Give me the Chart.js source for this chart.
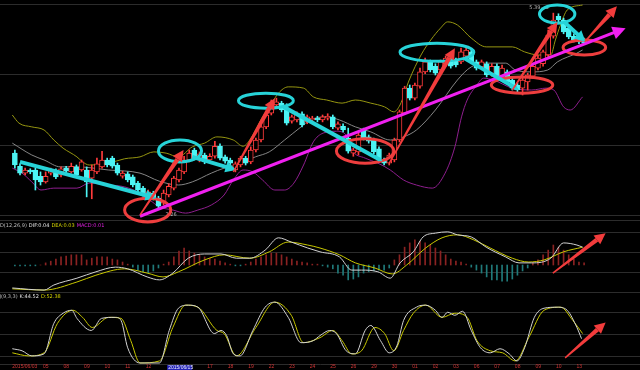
<!DOCTYPE html>
<html>
<head>
<meta charset="utf-8">
<script src="https://cdn.jsdelivr.net/npm/chart.js@4.4.0/dist/chart.umd.min.js"></script>
<style>
  html, body { margin: 0; padding: 0; background: #000; }
  canvas { display: block; }
</style>
</head>
<body>
<canvas id="kline" width="640" height="370"></canvas>
<script>
// trading days, 4 hourly bars a day (first day only has its last 2 bars)
const days = ['2015/06/03','04','05','08','09','10','11','12','15','16','17','18','19','22','23','24',
  '25','26','29','30','01','02','03','06','07','08','09','10','13'];
const cursorDay = '15';

// hourly candles
const open = [3.15,2.94,2.83,2.88,2.88,2.78,2.69,2.83,2.86,2.80,
  2.91,2.85,2.93,2.88,2.88,2.75,2.85,2.93,3.04,3.07,
  2.96,2.78,2.82,2.77,2.67,2.59,2.50,2.51,2.43,2.35,
  2.48,2.59,2.72,2.85,3.04,3.20,3.04,3.12,3.04,3.10,
  3.26,3.09,3.04,2.88,2.96,3.07,3.01,3.20,3.36,3.57,
  3.79,3.92,3.95,3.87,3.66,3.68,3.78,3.65,3.68,3.71,
  3.68,3.71,3.73,3.55,3.58,3.39,3.15,3.17,3.52,3.41,
  3.36,3.22,3.04,2.99,3.04,3.36,3.79,4.19,4.03,4.22,
  4.45,4.61,4.54,4.48,4.58,4.67,4.64,4.61,4.70,4.77,
  4.61,4.53,4.58,4.42,4.54,4.38,4.45,4.32,4.24,4.19,
  4.29,4.38,4.51,4.58,4.72,5.02,5.34,5.28,5.15,5.02,
  4.99,4.96];
const close = [2.96,2.83,2.88,2.85,2.72,2.69,2.78,2.88,2.77,2.90,
  2.86,2.94,2.80,3.01,2.69,2.88,2.98,3.04,2.96,2.94,
  2.83,2.83,2.72,2.64,2.56,2.50,2.53,2.43,2.30,2.51,
  2.62,2.75,2.88,3.04,3.15,3.07,3.14,3.01,3.10,3.26,
  3.07,3.02,2.99,2.98,3.07,2.99,3.20,3.36,3.57,3.76,
  3.95,3.97,3.84,3.63,3.73,3.78,3.60,3.73,3.71,3.68,
  3.73,3.74,3.57,3.62,3.52,3.18,3.20,3.44,3.39,3.34,
  3.17,3.04,2.99,3.12,3.36,3.81,4.19,4.03,4.24,4.45,
  4.61,4.48,4.43,4.61,4.67,4.54,4.56,4.77,4.80,4.61,
  4.51,4.61,4.40,4.54,4.38,4.51,4.29,4.19,4.16,4.32,
  4.40,4.54,4.67,4.77,5.04,5.28,5.28,5.09,5.01,4.96,
  4.93,4.91];
const high = [3.20,2.98,2.91,2.90,2.91,2.85,2.85,2.91,2.90,2.93,
  2.94,2.99,2.96,3.04,2.93,2.96,3.07,3.18,3.07,3.10,
  2.99,2.86,2.85,2.80,2.70,2.62,2.56,2.54,2.46,2.56,
  2.66,2.78,2.91,3.10,3.20,3.23,3.17,3.15,3.14,3.34,
  3.30,3.12,3.07,3.01,3.10,3.10,3.25,3.39,3.60,3.79,
  4.00,4.03,3.98,3.94,3.76,3.81,3.81,3.76,3.74,3.74,
  3.76,3.78,3.76,3.65,3.62,3.55,3.23,3.47,3.55,3.44,
  3.39,3.25,3.07,3.15,3.39,3.84,4.22,4.24,4.27,4.51,
  4.67,4.64,4.58,4.64,4.70,4.72,4.67,4.83,4.83,4.80,
  4.64,4.64,4.61,4.58,4.58,4.56,4.48,4.35,4.27,4.35,
  4.43,4.58,4.72,4.80,5.12,5.39,5.38,5.31,5.18,5.06,
  5.02,4.99];
const low = [2.91,2.80,2.80,2.82,2.56,2.64,2.67,2.80,2.74,2.77,
  2.83,2.83,2.77,2.86,2.45,2.42,2.82,2.91,2.93,2.91,
  2.80,2.75,2.69,2.61,2.53,2.46,2.46,2.40,2.26,2.32,
  2.45,2.56,2.69,2.82,3.01,3.04,3.01,2.98,3.01,3.07,
  3.04,2.99,2.96,2.85,2.93,2.96,2.98,3.17,3.33,3.54,
  3.76,3.87,3.81,3.60,3.63,3.65,3.57,3.62,3.65,3.65,
  3.65,3.68,3.54,3.52,3.49,3.15,3.10,3.12,3.36,3.31,
  3.14,3.01,2.96,2.96,3.01,3.33,3.78,4.00,4.00,4.19,
  4.42,4.45,4.40,4.45,4.54,4.51,4.53,4.58,4.67,4.58,
  4.48,4.50,4.37,4.38,4.35,4.35,4.26,4.16,4.13,4.08,
  4.16,4.35,4.48,4.54,4.67,4.99,5.25,5.06,4.98,4.93,
  4.90,4.90];

// Bollinger bands, [bar index, price]
const bollUpper = [[-0.5,3.76],[0.8,3.63],[3.3,3.57],[5.7,3.52],[7.6,3.36],[9.4,3.23],[12.1,3.09],[13.2,3.01],
  [14.5,2.96],[18.3,2.99],[21.4,3.06],[24.4,3.09],[27.1,3.17],[29.5,3.15],[31.9,3.09],[34.6,3.25],[37,3.31],
  [39.4,3.41],[42.6,3.36],[44.5,3.26],[45.8,3.36],[48.3,3.73],[50.1,3.95],[51.4,4.11],[53.3,4.21],[56.3,4.19],
  [58.2,4.05],[60.8,4.00],[63.8,3.95],[66.4,4.00],[69.4,3.95],[72.1,3.89],[73.9,3.81],[75.1,3.92],[76.9,4.32],
  [79.2,4.72],[81.1,4.96],[83,5.15],[84.4,5.25],[86.3,5.20],[89,4.99],[91.9,4.85],[97,4.85],[99.4,4.77],
  [102.1,4.72],[104.5,4.72],[105.4,4.96],[106.4,5.20],[107.7,5.44],[110.7,5.52]];
const bollMid = [[-0.5,3.31],[3.3,3.12],[5.7,3.04],[8.9,2.93],[12.1,2.93],[18.3,2.88],[24.4,2.83],[28.2,2.70],
  [31.9,2.64],[34.6,2.69],[38.3,2.83],[40.8,2.91],[43.2,2.96],[46.9,3.09],[49.6,3.17],[52.6,3.36],[55.8,3.57],
  [57.6,3.68],[60.8,3.73],[63.3,3.68],[66.4,3.57],[69.4,3.49],[73.2,3.36],[75.8,3.41],[78.3,3.52],[82,3.84],
  [86.3,4.32],[89,4.53],[92.7,4.59],[95.7,4.59],[97.6,4.48],[100.8,4.45],[103.9,4.48],[105.8,4.61],
  [109.6,4.75],[110.7,4.80]];
const bollLower = [[-0.5,2.91],[1.4,2.83],[3.3,2.69],[5.1,2.56],[7.6,2.59],[12.1,2.59],[14.5,2.67],[18.3,2.64],
  [21.4,2.61],[24.4,2.51],[26.3,2.40],[28.2,2.29],[30.8,2.24],[33.3,2.19],[35.7,2.24],[38.3,2.32],[40.8,2.48],
  [42.6,2.72],[44.5,2.88],[46.4,2.85],[48.3,2.72],[50.7,2.56],[52.6,2.56],[54.4,2.67],[56.3,2.96],[58.2,3.33],
  [60.1,3.47],[62.7,3.50],[64.6,3.44],[65.7,3.20],[68.3,3.07],[70.8,2.99],[73.2,2.88],[75.8,2.72],[78.3,2.64],
  [81.4,2.59],[83.9,2.83],[85.8,3.25],[87.1,3.73],[88.2,4.00],[90.1,4.24],[91.4,4.35],[93.3,4.32],[97,4.19],
  [100.8,4.16],[103.6,4.19],[105.1,4.16],[107,3.89],[108.3,3.84],[110.7,4.05]];

// MACD(12,26,9)
const macdBar = [-0.002,-0.002,-0.002,-0.002,-0.002,0,0.005,0.009,0.014,0.019,
  0.021,0.024,0.024,0.024,0.012,0.016,0.019,0.019,0.019,0.014,
  0.012,0.007,0.002,-0.005,-0.012,-0.016,-0.019,-0.014,-0.007,0.002,
  0.007,0.019,0.033,0.040,0.033,0.028,0.024,0.019,0.016,0.014,
  0.009,0.005,0.002,-0.002,-0.002,0.002,0.007,0.014,0.019,0.024,
  0.028,0.028,0.024,0.019,0.014,0.009,0.007,0.005,0.002,0.002,
  -0.002,-0.005,-0.009,-0.019,-0.024,-0.035,-0.033,-0.028,-0.019,-0.016,
  -0.014,-0.012,-0.012,-0.007,0.012,0.024,0.042,0.052,0.059,0.056,
  0.052,0.047,0.040,0.033,0.024,0.014,0.009,0.007,0.002,-0.005,
  -0.012,-0.019,-0.028,-0.035,-0.035,-0.038,-0.038,-0.033,-0.024,-0.014,
  -0.007,0.005,0.012,0.024,0.035,0.047,0.042,0.035,0.024,0.014,
  0.007,0.005];
const dif = [[-0.5,-0.054],[5.7,-0.059],[7.6,-0.047],[12.1,-0.031],[15.8,-0.016],[19.6,-0.005],[22,-0.009],
  [25.8,-0.028],[28.2,-0.035],[30.8,-0.019],[33.8,0.016],[37,0.026],[40.2,0.026],[43.2,0.016],[45.8,0.016],
  [48.8,0.035],[51.4,0.064],[53.9,0.054],[57.1,0.040],[59.5,0.031],[63.3,0.019],[65.7,-0.012],[67.6,-0.012],
  [70.8,-0.016],[73.2,-0.031],[75.1,0.005],[77.7,0.031],[79.6,0.066],[82,0.075],[84.4,0.078],[86.3,0.071],
  [89,0.066],[91.9,0.042],[95.7,0.019],[98.3,0.005],[100.8,0.005],[104.5,0.016],[107,0.052],[109.6,0.047],
  [110.7,0.042]];
const dea = [[-0.5,-0.056],[5.7,-0.059],[12.1,-0.040],[15.8,-0.024],[21.4,-0.009],[25.8,-0.019],[28.9,-0.028],
  [31.9,-0.016],[37,0.012],[40.8,0.024],[45.8,0.016],[49.6,0.031],[53.3,0.054],[57.1,0.047],[59.5,0.040],
  [63.3,0.024],[66.4,0.005],[70.2,-0.007],[73.6,-0.021],[76.4,0],[80.1,0.040],[83.3,0.064],[86.3,0.071],
  [89.5,0.059],[92.7,0.040],[97,0.016],[100.2,0.007],[103.2,0.012],[107,0.031],[110.7,0.042]];

// KDJ(9,3,3)
const kLine = [[-0.5,30.6],[1.4,27.8],[3.3,20.8],[5.7,23.6],[7.6,65.3],[9.4,79.2],[11.1,83.3],[12.1,72.2],
  [14.9,55.6],[16.9,72.2],[19.6,73.6],[20.7,69.4],[22,31.9],[24.4,11.1],[28.2,11.1],[30.1,55.6],[31.9,86.1],
  [33.8,90.3],[35.7,87.5],[38.9,51.4],[40.2,55.6],[41.3,48.6],[42.6,23.6],[43.9,20.8],[46.4,55.6],[48.8,87.5],
  [50.7,94.4],[53.3,73.6],[55.8,38.9],[58.2,41.7],[59.5,48.6],[61.4,55.6],[62.7,51.4],[64.6,27.8],[66.4,23.6],
  [68.3,55.6],[69.4,62.5],[71.3,41.7],[73,25],[74.5,34.7],[75.8,69.4],[78.3,87.5],[80.1,90.3],[82,83.3],
  [83.3,73.6],[84.4,80.6],[85.8,76.4],[87.3,81.9],[89,55.6],[90.8,31.9],[92.7,25],[94.6,30.6],[96.4,23.6],
  [97.9,13.9],[99.4,31.9],[101.3,73.6],[103.2,86.1],[105.8,87.5],[107.7,83.3],[109.6,59.7],[110.5,44.4]];
const dLine = [[-0.5,25],[2.7,20.8],[5.7,25],[8.3,65.3],[11.3,83.3],[13.2,73.6],[15.1,59.7],[18.3,73.6],
  [20.7,72.2],[22.6,41.7],[24.4,11.1],[28.2,13.9],[30.8,59.7],[33.3,90.3],[35.7,87.5],[39.4,55.6],[40.8,51.4],
  [43.2,20.8],[47,59.7],[50.7,94.4],[53.9,76.4],[56.3,38.9],[59.5,45.8],[62,55.6],[63.8,41.7],[65.7,23.6],
  [67.6,27.8],[70.2,59.7],[72.1,51.4],[73.9,27.8],[75.8,55.6],[77.7,79.2],[80.1,90.3],[83.3,73.6],[85.8,79.2],
  [88.2,73.6],[90.1,41.7],[92.7,27.8],[95.1,25],[97.6,13.9],[100.2,45.8],[103.2,83.3],[106.4,87.5],
  [108.8,69.4],[110.7,51.4]];

// header texts
const macdTitle = [['MACD(12,26,9)','#bdbdbd'],['DIF:0.04','#e6e6e6'],['DEA:0.03','#d6d600'],['MACD:0.01','#e020e0']];
const kdjTitle = [['KDJ(9,3,3)','#bdbdbd'],['K:44.52','#e6e6e6'],['D:52.38','#d6d600']];

// hand drawn marks: rings [from bar, to bar, top price, bottom price]
const cyanRings = [[28,36.4,3.36,3.01],[43.6,54.3,4.11,3.87],[75.1,89.5,4.91,4.62],[102.3,109.2,5.52,5.23]];
const redRings = [[21.4,30.4,2.43,2.05],[62.7,73.9,3.38,2.99],[92.9,104.9,4.37,4.11],[106.9,115.2,4.96,4.72]];
// arrows [from bar, from value, to bar, to value]
const redArrows = [[24.4,2.16,32.9,3.20],[42.6,2.85,50.7,4.03],[73,2.99,85.8,4.83],[97,4.16,105.8,5.25],[111.1,4.93,117.4,5.50]];
const cyanArrows = [[1,3.01,27.6,2.43],[34.6,3.09,43.2,2.88],[52.4,3.89,71.7,3.02],[87.6,4.67,98.3,4.16],[107.1,5.25,111.3,4.93]];
const trendArrow = [24.4,2.14,119.1,5.15];
const macdArrow = [104.9,-0.019,115.2,0.075];
const kdjArrow = [107.3,18.1,115.2,66.7];

const UP = '#ff3b3b', DOWN = '#4cf4f4';

// bar index where each day starts
const dayStart = days.map((d, k) => k === 0 ? 0 : 2 + 4 * (k - 1));
const tickText = new Map();
days.forEach((d, k) => {
  if (k === 1) return; // hidden under the full first date
  if (d === cursorDay || days[k - 1] === cursorDay) return; // under the cursor box
  tickText.set(dayStart[k] - 0.5, d);
});

const pts = arr => arr.map(([x, y]) => ({ x, y }));
const isUp = i => close[i] >= open[i];

function arrow(ctx, x0, y0, x1, y1, color, w, head, taper) {
  const a = Math.atan2(y1 - y0, x1 - x0);
  const c = Math.cos(a), s = Math.sin(a);
  const bx = x1 - head * c, by = y1 - head * s;
  ctx.fillStyle = color;
  ctx.strokeStyle = color;
  if (taper) {
    ctx.beginPath();
    ctx.moveTo(x0 - s * 0.7, y0 + c * 0.7);
    ctx.lineTo(bx - s * w / 2, by + c * w / 2);
    ctx.lineTo(bx + s * w / 2, by - c * w / 2);
    ctx.lineTo(x0 + s * 0.7, y0 - c * 0.7);
    ctx.closePath();
    ctx.fill();
  } else {
    ctx.lineWidth = w;
    ctx.beginPath();
    ctx.moveTo(x0, y0);
    ctx.lineTo(bx + c, by + s);
    ctx.stroke();
  }
  ctx.beginPath();
  ctx.moveTo(x1, y1);
  ctx.lineTo(bx - s * head * 0.5, by + c * head * 0.5);
  ctx.lineTo(bx + s * head * 0.5, by - c * head * 0.5);
  ctx.closePath();
  ctx.fill();
}

const overlay = {
  id: 'overlay',
  beforeDraw(chart) {
    const ctx = chart.ctx;
    ctx.save();
    ctx.fillStyle = '#000';
    ctx.fillRect(0, 0, chart.width, chart.height);
    ctx.restore();
  },
  afterDatasetsDraw(chart) {
    const { ctx, scales } = chart;
    const X = v => scales.x.getPixelForValue(v);
    const P = v => scales.yP.getPixelForValue(v);
    ctx.save();

    // price labels at the low and the high
    ctx.font = '5px "DejaVu Sans"';
    ctx.fillStyle = '#b8b8b8';
    ctx.strokeStyle = '#b8b8b8';
    ctx.lineWidth = 1;
    ctx.textBaseline = 'middle';
    let lo = low.indexOf(Math.min(...low));
    ctx.textAlign = 'left';
    ctx.fillText(low[lo].toFixed(2), X(lo) + 7, P(low[lo]) + 6);
    let hi = high.indexOf(Math.max(...high));
    ctx.textAlign = 'right';
    ctx.fillText(high[hi].toFixed(2), X(hi) - 13, P(high[hi]) - 5);
    ctx.beginPath();
    ctx.moveTo(X(hi) - 12, P(high[hi]) - 5);
    ctx.lineTo(X(hi) - 5, P(high[hi]) - 5);
    ctx.stroke();

    // rings
    ctx.lineWidth = 3;
    const ring = (r, color) => {
      const x0 = X(r[0]), x1 = X(r[1]), y0 = P(r[2]), y1 = P(r[3]);
      ctx.strokeStyle = color;
      ctx.beginPath();
      ctx.ellipse((x0 + x1) / 2, (y0 + y1) / 2, Math.abs(x1 - x0) / 2, Math.abs(y1 - y0) / 2, 0, 0, Math.PI * 2);
      ctx.stroke();
    };
    cyanRings.forEach(r => ring(r, '#27d3d8'));
    redRings.forEach(r => ring(r, '#ee3e3e'));

    // arrows
    const t = trendArrow;
    arrow(ctx, X(t[0]), P(t[1]), X(t[2]), P(t[3]), '#f020f0', 3, 13, false);
    cyanArrows.forEach((a, k) => arrow(ctx, X(a[0]), P(a[1]), X(a[2]), P(a[3]), '#27d3d8', 4, k === 2 || k === 3 ? 4 : 11, false));
    redArrows.forEach(a => arrow(ctx, X(a[0]), P(a[1]), X(a[2]), P(a[3]), '#f23c3c', 4.5, 11, true));
    const M = v => scales.yM.getPixelForValue(v);
    const K = v => scales.yK.getPixelForValue(v);
    arrow(ctx, X(macdArrow[0]), M(macdArrow[1]), X(macdArrow[2]), M(macdArrow[3]), '#f23c3c', 4.5, 11, true);
    arrow(ctx, X(kdjArrow[0]), K(kdjArrow[1]), X(kdjArrow[2]), K(kdjArrow[3]), '#f23c3c', 4.5, 11, true);

    // panel headers
    ctx.font = '5px "DejaVu Sans"';
    ctx.textAlign = 'left';
    ctx.textBaseline = 'middle';
    const header = (items, x, y) => {
      items.forEach(([txt, col]) => {
        ctx.fillStyle = col;
        ctx.fillText(txt, x, y);
        x += ctx.measureText(txt).width + 2;
      });
    };
    header(macdTitle, -ctx.measureText('MAC').width, scales.yM.top + 6);
    header(kdjTitle, -ctx.measureText('KDJ').width + 1, scales.yK.top + 5);

    // cursor date box on the time axis
    const k = days.indexOf(cursorDay);
    const bx = X(dayStart[k] - 0.5);
    ctx.font = '5px "Liberation Sans"';
    ctx.fillStyle = '#2323b4';
    ctx.fillRect(bx + 1, scales.x.top + 1, 25, chart.height - scales.x.top - 1);
    ctx.fillStyle = '#e8e8ff';
    ctx.fillText('2015/06/' + cursorDay, bx + 2, scales.x.top + 4);
    ctx.restore();
  }
};

const gridColor = '#2c2c2c';
const paneY = (weight, min, max, ticks) => ({
  type: 'linear', position: 'right', stack: 'panes', stackWeight: weight,
  min, max,
  grid: { color: gridColor, drawTicks: false },
  border: { display: false },
  ticks: { display: false },
  afterBuildTicks: axis => { axis.ticks = ticks.map(v => ({ value: v })); }
});

new Chart(document.getElementById('kline'), {
  type: 'bar',
  data: {
    datasets: [
      {
        label: 'bodies',
        data: open.map((o, i) => ({ x: i, y: [o, close[i]] })),
        backgroundColor: open.map((o, i) => isUp(i) ? '#000' : DOWN),
        borderColor: open.map((o, i) => isUp(i) ? UP : DOWN),
        borderWidth: 1, borderSkipped: false,
        barThickness: 5, grouped: false, yAxisID: 'yP', order: 1
      },
      {
        label: 'wicks',
        data: low.map((l, i) => ({ x: i, y: [l, high[i]] })),
        backgroundColor: open.map((o, i) => isUp(i) ? UP : DOWN),
        barThickness: 1, grouped: false, yAxisID: 'yP', order: 2
      },
      { type: 'line', label: 'UPPER', data: pts(bollUpper), borderColor: '#959510', yAxisID: 'yP', order: 3 },
      { type: 'line', label: 'MID', data: pts(bollMid), borderColor: '#858585', yAxisID: 'yP', order: 3 },
      { type: 'line', label: 'LOWER', data: pts(bollLower), borderColor: '#8e1e8e', yAxisID: 'yP', order: 3 },
      {
        label: 'MACD',
        data: macdBar.map((v, i) => ({ x: i, y: v })),
        backgroundColor: macdBar.map(v => v >= 0 ? '#8a2222' : '#207a7a'),
        barThickness: 1, grouped: false, yAxisID: 'yM', order: 4
      },
      { type: 'line', label: 'DIF', data: pts(dif), borderColor: '#d2d2d2', yAxisID: 'yM', order: 3 },
      { type: 'line', label: 'DEA', data: pts(dea), borderColor: '#c8c800', yAxisID: 'yM', order: 3 },
      { type: 'line', label: 'K', data: pts(kLine), borderColor: '#d2d2d2', yAxisID: 'yK', order: 3 },
      { type: 'line', label: 'D', data: pts(dLine), borderColor: '#c8c800', yAxisID: 'yK', order: 3 }
    ]
  },
  options: {
    responsive: false,
    animation: false,
    layout: { padding: 0 },
    elements: {
      line: { borderWidth: 1, cubicInterpolationMode: 'monotone', fill: false },
      point: { radius: 0 }
    },
    plugins: { legend: { display: false }, tooltip: { enabled: false } },
    scales: {
      x: {
        type: 'linear', min: -0.5, max: 119.5,
        grid: { display: false, drawTicks: false },
        border: { display: true, color: gridColor },
        ticks: {
          autoSkip: false, maxRotation: 0, align: 'start', padding: 0,
          color: '#d23434', font: { size: 5, family: 'Liberation Sans' },
          callback: v => tickText.get(v) ?? ''
        },
        afterBuildTicks: axis => { axis.ticks = [...tickText.keys()].map(v => ({ value: v })); }
      },
      yP: paneY(220, 2.08, 5.60, [5.52, 4.40, 3.28, 2.16]),
      yM: paneY(72, -0.0635, 0.1059, [0.1059, 0.0776, 0.0306, -0.0165, -0.0635]),
      yK: paneY(72, 9.7, 108.3, [108.3, 80, 50, 20])
    }
  },
  plugins: [overlay]
});
</script>
</body>
</html>
